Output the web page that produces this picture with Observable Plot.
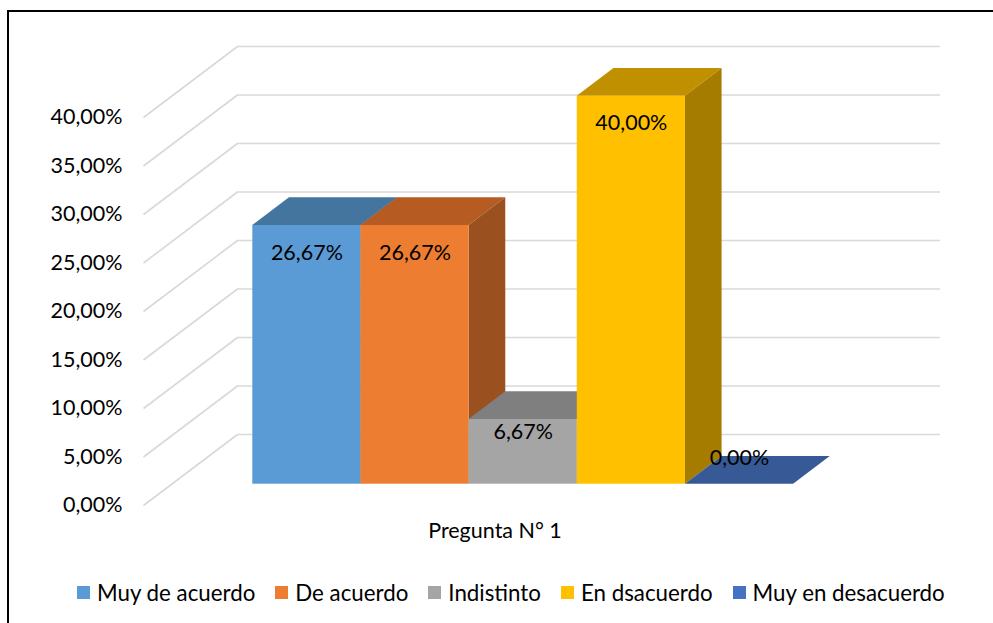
<!DOCTYPE html>
<html>
<head>
<meta charset="utf-8">
<script src="https://cdn.jsdelivr.net/npm/d3@7"></script>
<script src="https://cdn.jsdelivr.net/npm/@observablehq/plot@0.6"></script>
<style>
  html, body { margin: 0; padding: 0; background: #fff; overflow: hidden; }
  #frame { position: absolute; left: 7px; top: 10px; width: 1100px; height: 700px; border: 2px solid #000; box-sizing: border-box; }
  #chart { position: absolute; left: 0; top: 0; }
  #legend { position: absolute; left: 77px; top: 579px; display: flex; align-items: center; font-family: Lato, sans-serif; font-size: 22.3px; color: #000; white-space: nowrap; }
  .item { display: flex; align-items: center; margin-right: 20px; }
  .sw { width: 13px; height: 13px; margin-right: 7px; }
</style>
</head>
<body>
<div id="frame"></div>
<div id="chart"></div>
<div id="legend"></div>
<script>
// ---- data ----
const categories = ["Muy de acuerdo", "De acuerdo", "Indistinto", "En dsacuerdo", "Muy en desacuerdo"];
const values = [26.67, 26.67, 6.67, 40.00, 0.00];
const frontColors = ["#5B9BD5", "#ED7D31", "#A5A5A5", "#FFC000", "#4472C4"];
const topColors = ["#44759F", "#B65C23", "#7F7F7F", "#C19000", "#375A96"];
const sideColors = ["#3B6690", "#9B501F", "#6E6E6E", "#A57C00", "#2E4C82"];
const yTicks = [0, 5, 10, 15, 20, 25, 30, 35, 40];
const axisCategory = "Pregunta N° 1";

// ---- 3D projection constants (data units) ----
const GAP = 0.75, BAR = 1;
const W = GAP * 2 + categories.length * BAR;  // floor width
const DX = 0.869, DY = 7.32;                  // full-depth shift
const D0 = 0.3, D1 = 0.69;                    // bar front / back depth

const fmt = v => v.toFixed(2).replace(".", ",") + "%";

const bars = categories.map((c, i) => ({
  c, v: values[i], x0: GAP + i * BAR, x1: GAP + (i + 1) * BAR
}));

const marks = [];
// back wall gridlines
marks.push(Plot.ruleY(yTicks, {y: t => t + DY, x1: () => DX, x2: () => W + DX, stroke: "#d9d9d9", strokeWidth: 1.6}));
// side wall diagonals
marks.push(Plot.link(yTicks, {x1: () => 0, y1: t => t, x2: () => DX, y2: t => t + DY, stroke: "#d9d9d9", strokeWidth: 1.6}));

bars.forEach((b, i) => {
  const topFace = [D0, D1].map(d => ({y: b.v + d * DY, xa: b.x0 + d * DX, xb: b.x1 + d * DX}));
  const sideFace = [D0, D1].map(d => ({x: b.x1 + d * DX, ya: d * DY, yb: b.v + d * DY}));
  marks.push(Plot.areaX(topFace, {y: "y", x1: "xa", x2: "xb", fill: topColors[i]}));
  if (b.v > 0) {
    marks.push(Plot.areaY(sideFace, {x: "x", y1: "ya", y2: "yb", fill: sideColors[i]}));
    marks.push(Plot.rect([b], {x1: d => d.x0 + D0 * DX, x2: d => d.x1 + D0 * DX, y1: () => D0 * DY, y2: d => d.v + D0 * DY, fill: frontColors[i]}));
  }
});

// data labels
marks.push(Plot.text(bars, {
  x: d => (d.x0 + d.x1) / 2 + D0 * DX,
  y: d => d.v > 0 ? d.v + D0 * DY - Math.min(2.8, d.v * 0.19) : d.v + D0 * DY + 2.7,
  text: d => fmt(d.v),
  fill: "#000"
}));

// category label
marks.push(Plot.text([axisCategory], {x: () => W / 2, frameAnchor: "bottom", dy: 32, text: d => d, fill: "#000"}));

const chart = Plot.plot({
  width: 993,
  height: 560,
  marginLeft: 143,
  marginRight: 53,
  marginTop: 46,
  marginBottom: 55,
  style: {fontFamily: "Lato, sans-serif", fontSize: "21.5px", color: "#000", background: "transparent"},
  x: {domain: [0, W + DX], axis: null},
  y: {domain: [0, 40 + DY], ticks: yTicks, tickFormat: fmt, tickSize: 0, tickPadding: 21, label: null},
  marks
});
document.getElementById("chart").appendChild(chart);

// legend
const legend = document.getElementById("legend");
categories.forEach((c, i) => {
  const it = document.createElement("div");
  it.className = "item";
  const sw = document.createElement("span");
  sw.className = "sw";
  sw.style.background = frontColors[i];
  const tx = document.createElement("span");
  tx.textContent = c;
  it.appendChild(sw); it.appendChild(tx);
  legend.appendChild(it);
});
</script>
</body>
</html>
